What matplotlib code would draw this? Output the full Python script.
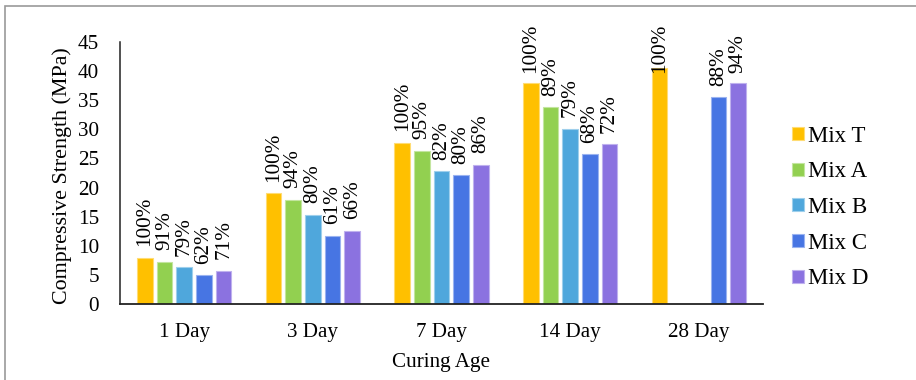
import numpy as np
import matplotlib
matplotlib.use('Agg')
import matplotlib.pyplot as plt
from matplotlib.patches import Rectangle
from matplotlib import colors as mcolors

plt.rcParams['font.family'] = ['Liberation Serif', 'DejaVu Serif']

# data
ages = ['1 Day', '3 Day', '7 Day', '14 Day', '28 Day']
mixes = ['Mix T', 'Mix A', 'Mix B', 'Mix C', 'Mix D']
mix_t = [7.95, 19.0, 27.7, 38.0, 40.5]
mix_a = [7.25, 17.9, 26.3, 33.8, np.nan]
mix_b = [6.3, 15.3, 22.8, 30.1, np.nan]
mix_c = [4.9, 11.7, 22.1, 25.7, 35.5]
mix_d = [5.65, 12.6, 23.9, 27.4, 38.0]
pct_t = ['100%', '100%', '100%', '100%', '100%']
pct_a = ['91%', '94%', '95%', '89%', '']
pct_b = ['79%', '80%', '82%', '79%', '']
pct_c = ['62%', '61%', '80%', '68%', '88%']
pct_d = ['71%', '66%', '86%', '72%', '94%']

series = [mix_t, mix_a, mix_b, mix_c, mix_d]
pcts = [pct_t, pct_a, pct_b, pct_c, pct_d]
bar_colors = ['#FFC000', '#92D050', '#4FA7DC', '#4775E3', '#8B72E0']

fs = 15.2
fig = plt.figure(figsize=(9.16, 3.8), dpi=100)
ax = fig.add_axes([120/916, 76/380, 643/916, 262/380])

x = np.arange(len(ages))
width = 0.122
step = 0.153
for i in range(len(series)):
	vals = np.array(series[i], dtype=float)
	edge = mcolors.to_rgb(bar_colors[i])
	edge = tuple(0.55*c + 0.45 for c in edge)
	pos = x + (i - 2)*step
	ax.bar(pos, vals, width, color=bar_colors[i], edgecolor=edge, linewidth=0.8, label=mixes[i], zorder=2)
	for j in range(len(ages)):
		if np.isnan(vals[j]):
			continue
		y = min(vals[j] + 2.0, 39.7)
		ax.text(pos[j], y, pcts[i][j], rotation=90, ha='center', va='bottom', fontsize=15.3, zorder=3, clip_on=False)

ax.set_xlim(-0.5, 4.5)
ax.set_ylim(0, 45)
ax.set_yticks(np.arange(0, 46, 5))
ax.set_xticks(x)
ax.set_xticklabels(ages)
ax.tick_params(axis='both', length=0, labelsize=fs)
ax.tick_params(axis='y', pad=15)
ax.tick_params(axis='x', pad=14)
for s in ['top', 'right']:
	ax.spines[s].set_visible(False)
ax.spines['left'].set_color('#222222')
ax.spines['bottom'].set_color('#222222')
ax.spines['left'].set_linewidth(1.1)
ax.spines['bottom'].set_linewidth(1.3)

fig.text(62/916, (380-176)/380, 'Compressive Strength (MPa)', rotation=90, ha='center', va='center', fontsize=15.8)
fig.text(441.5/916, (380-362)/380, 'Curing Age', ha='center', va='center', fontsize=fs)

ax.legend(loc='center left', bbox_to_anchor=(792/916, (380-207.5)/380), bbox_transform=fig.transFigure,
	frameon=False, fontsize=16.5, handlelength=0.52, handleheight=0.48, handletextpad=0.17, labelspacing=0.64,
	borderaxespad=0, borderpad=0)

# outer chart border (clipped by the image on the right and bottom)
fig.add_artist(Rectangle((5/916, -0.1), 2.0, (380-6.5)/380 + 0.1, transform=fig.transFigure,
	fill=False, edgecolor='#9a9a9a', linewidth=1.2, clip_on=False))

fig.savefig('out.png', dpi=100)
